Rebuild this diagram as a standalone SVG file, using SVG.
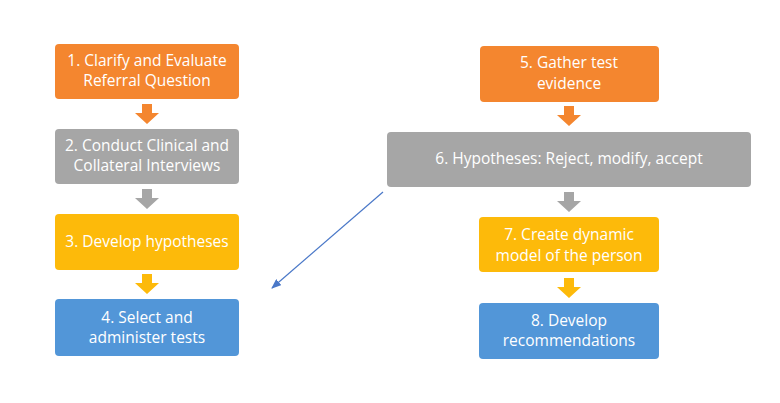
<svg xmlns="http://www.w3.org/2000/svg" width="780" height="403" viewBox="0 0 780 403">
<defs>
<style>
.box{stroke:none}
.or{fill:#F4862F}.gr{fill:#A6A6A6}.ye{fill:#FDBA0A}.bl{fill:#5296D8}
text{font-family:"Open Sans","Noto Sans",sans-serif;font-size:15.5px;fill:#FFFFFF;text-anchor:middle}
</style>
<marker id="ah" markerWidth="10" markerHeight="8" refX="9" refY="4" orient="auto" markerUnits="userSpaceOnUse">
<path d="M0,0 L10,4 L0,8 Z" fill="#4A78C8"/>
</marker>
</defs>
<rect width="780" height="403" fill="#FFFFFF"/>
<g id="connectors">
<path class="or" d="M142,104 h10 v9 h7 l-12,11 l-12,-11 h7 z"/>
<path class="gr" d="M142,189 h10 v9 h7 l-12,11 l-12,-11 h7 z"/>
<path class="ye" d="M142,274 h10 v9 h7 l-12,11 l-12,-11 h7 z"/>
<path class="or" d="M564,106 h10 v9 h7 l-12,11 l-12,-11 h7 z"/>
<path class="gr" d="M564,192 h10 v9 h7 l-12,11 l-12,-11 h7 z"/>
<path class="ye" d="M564,278 h10 v9 h7 l-12,11 l-12,-11 h7 z"/>
<line x1="383" y1="192" x2="272" y2="288" stroke="#4A78C8" stroke-width="1.2" marker-end="url(#ah)"/>
</g>
<g id="n1"><rect class="box or" x="55" y="44" width="184" height="55" rx="4"/><text x="147" y="66">1. Clarify and Evaluate</text><text x="147" y="86">Referral Question</text></g>
<g id="n2"><rect class="box gr" x="55" y="129" width="184" height="55" rx="4"/><text x="147" y="151">2. Conduct Clinical and</text><text x="147" y="171">Collateral Interviews</text></g>
<g id="n3"><rect class="box ye" x="55" y="214" width="184" height="56" rx="4"/><text x="147" y="247">3. Develop hypotheses</text></g>
<g id="n4"><rect class="box bl" x="55" y="299" width="184" height="57" rx="4"/><text x="147" y="323">4. Select and</text><text x="147" y="343">administer tests</text></g>
<g id="n5"><rect class="box or" x="480" y="46" width="179" height="56" rx="4"/><text x="569" y="68">5. Gather test</text><text x="569" y="89">evidence</text></g>
<g id="n6"><rect class="box gr" x="387" y="132" width="364" height="55" rx="4"/><text x="569" y="164">6. Hypotheses: Reject, modify, accept</text></g>
<g id="n7"><rect class="box ye" x="479" y="217" width="180" height="55" rx="4"/><text x="569" y="240">7. Create dynamic</text><text x="569" y="261">model of the person</text></g>
<g id="n8"><rect class="box bl" x="479" y="303" width="180" height="56" rx="4"/><text x="569" y="326">8. Develop</text><text x="569" y="346">recommendations</text></g>
</svg>
